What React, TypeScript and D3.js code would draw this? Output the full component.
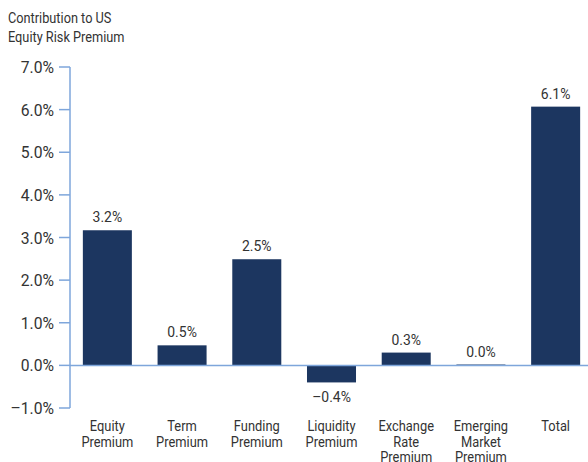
import React from 'react';
import * as d3 from 'd3';

// categories, split into lines as shown under the bars
const categories = [
  ['Equity', 'Premium'],
  ['Term', 'Premium'],
  ['Funding', 'Premium'],
  ['Liquidity', 'Premium'],
  ['Exchange', 'Rate', 'Premium'],
  ['Emerging', 'Market', 'Premium'],
  ['Total'],
];
const values = [3.17, 0.47, 2.49, -0.4, 0.3, 0.02, 6.07];
const valueLabels = ['3.2%', '0.5%', '2.5%', '\u20130.4%', '0.3%', '0.0%', '6.1%'];
const yTicks = [-1, 0, 1, 2, 3, 4, 5, 6, 7];
const titleLines = ['Contribution to US', 'Equity Risk Premium'];

const width = 588;
const height = 462;
const navy = '#1c3660';
const axisBlue = '#7ea6db';
const textColor = '#333';
const font = 'Roboto, "Liberation Sans", sans-serif';

// squeeze fakes the condensed face of the original
const T = ({ x, y, anchor = 'start', size = 14, squeeze = 0.85, children }: any) => (
  <text
    transform={`translate(${x},${y}) scale(${squeeze},1)`}
    textAnchor={anchor}
    fontSize={size}
    fill={textColor}
    fontFamily={font}
  >
    {children}
  </text>
);

const App = () => {
  const x = d3
    .scaleBand<number>()
    .domain(d3.range(values.length))
    .range([70, 593])
    .paddingInner(0.344)
    .paddingOuter(0.172);

  const y = d3.scaleLinear().domain([-1, 7]).range([408, 67]);

  return (
    <svg
      width={width}
      height={height}
      style={{ position: 'absolute', left: 0, top: 0, background: '#fff' }}
    >
      {titleLines.map((t, i) => (
        <T key={t} x={8} y={23 + i * 19} size={14.5} squeeze={0.88}>
          {t}
        </T>
      ))}

      {/* bars */}
      {values.map((v, i) => (
        <rect
          key={i}
          x={x(i)}
          y={y(Math.max(0, v))}
          width={x.bandwidth()}
          height={Math.max(1, Math.abs(y(v) - y(0)))}
          fill={navy}
        />
      ))}

      {/* y axis */}
      <line x1={70} x2={70} y1={y(7)} y2={y(-1)} stroke={axisBlue} strokeWidth={1.5} />
      {yTicks.map((t) => (
        <g key={t}>
          <line x1={59} x2={70} y1={y(t)} y2={y(t)} stroke={axisBlue} strokeWidth={1.5} />
          <T x={54} y={y(t) + 6} anchor="end" size={16} squeeze={0.98}>
            {(t < 0 ? '\u2013' : '') + d3.format('.1f')(Math.abs(t)) + '%'}
          </T>
        </g>
      ))}
      <line x1={70} x2={width} y1={y(0)} y2={y(0)} stroke={axisBlue} strokeWidth={1.5} />

      {/* value labels */}
      {values.map((v, i) => (
        <T
          key={i}
          x={x(i)! + x.bandwidth() / 2}
          y={v >= 0 ? y(v) - 8 : y(v) + 20}
          anchor="middle"
          size={15.5}
          squeeze={0.9}
        >
          {valueLabels[i]}
        </T>
      ))}

      {/* category labels */}
      {categories.map((lines, i) =>
        lines.map((l, j) => (
          <T
            key={i + '-' + j}
            x={x(i)! + x.bandwidth() / 2}
            y={431 + j * 15.6}
            anchor="middle"
            size={15.5}
            squeeze={0.83}
          >
            {l}
          </T>
        ))
      )}
    </svg>
  );
};

export default App;
